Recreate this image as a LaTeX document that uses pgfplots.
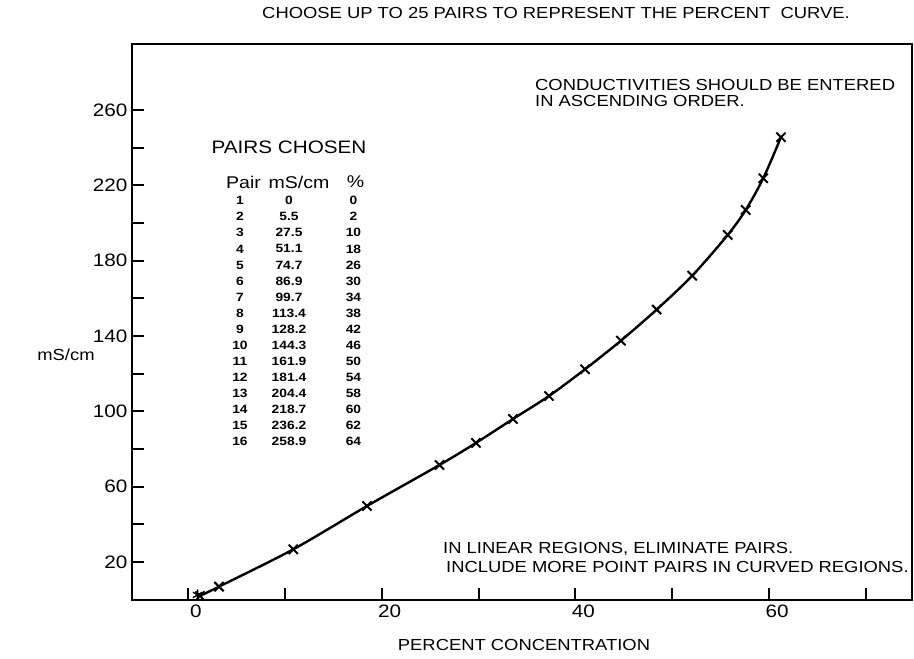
\documentclass[border=0pt]{standalone}
\usepackage{pgfplots}
\pgfplotsset{compat=1.18}
\usepackage{fontspec}
\setmainfont{Liberation Sans}
\usepackage{graphicx}
\newcommand{\hs}[1]{\scalebox{1.15}[1]{#1}}
\newcommand{\fs}[1]{\fontsize{#1}{#1}\selectfont}
\begin{document}
\begin{tikzpicture}[x=1pt,y=1pt]
\useasboundingbox (-132,-59) rectangle (782,600);
\begin{axis}[
  at={(0,0)}, anchor=south west,
  scale only axis, width=780pt, height=556pt,
  xmin=-5.78, xmax=74.75, ymin=-0.2, ymax=295,
  axis line style={line width=2.6pt},
  tick align=inside, major tick length=12pt,
  tick style={line width=2pt, black},
  xtick pos=bottom, ytick pos=left,
  xtick={0,10,...,70},
  xticklabels={\hs{0},,\hs{20},,\hs{40},,\hs{60},},
  ytick={20,40,...,260},
  yticklabels={\hs{20},,\hs{60},,\hs{100},,\hs{140},,\hs{180},,\hs{220},,\hs{260}},
  xticklabel style={font=\fs{18}, xshift=8pt, yshift=-1pt},
  yticklabel style={font=\fs{18}, xshift=-1pt},
  clip=false,
]
\addplot[black, line width=2.4pt, smooth, mark=x, mark size=6.5pt,
  mark options={line width=2pt, solid}] coordinates {
(1.24,1.95) (3.20,6.9) (10.87,26.7) (18.48,49.7) (25.97,71.5) (29.73,83.2)
(33.55,95.9) (37.27,108.1) (40.99,122.3) (44.70,137.5) (48.39,154.0)
(52.06,172.0) (55.72,193.6) (57.58,206.9) (59.39,223.7) (61.22,245.5)
};
\addplot[only marks, mark=asterisk, mark size=5.5pt, mark options={line width=1.4pt, black}]
  coordinates {(1.0,2.5)};
\end{axis}
% texts
\node[font=\fs{16}] at (424,587) {\hs{CHOOSE UP TO 25 PAIRS TO REPRESENT THE PERCENT\ \ CURVE.}};
\node[font=\fs{16}, anchor=west, inner sep=0pt] at (403,515) {\hs{CONDUCTIVITIES SHOULD BE ENTERED}};
\node[font=\fs{16}, anchor=west, inner sep=0pt] at (403,499.5) {\hs{IN ASCENDING ORDER.}};
\node[font=\fs{16}, anchor=west, inner sep=0pt] at (311,51) {\hs{IN LINEAR REGIONS, ELIMINATE PAIRS.}};
\node[font=\fs{16}, anchor=west, inner sep=0pt] at (314,33) {\hs{INCLUDE MORE POINT PAIRS IN CURVED REGIONS.}};
\node[font=\fs{16}] at (-66,245) {\hs{mS/cm}};
\node[font=\fs{16}] at (392,-45) {\hs{PERCENT CONCENTRATION}};
\node[font=\fs{18}] at (157,453) {\hs{PAIRS CHOSEN}};
\node[font=\fs{17}] at (111.5,418) {\hs{Pair}};
\node[font=\fs{17}] at (167,418) {\hs{mS/cm}};
\node[font=\fs{17}] at (223.5,418) {\hs{\%}};
\foreach \p/\m/\c [count=\i] in {1/0/0, 2/5.5/2, 3/27.5/10, 4/51.1/18, 5/74.7/26,
  6/86.9/30, 7/99.7/34, 8/113.4/38, 9/128.2/42, 10/144.3/46, 11/161.9/50,
  12/181.4/54, 13/204.4/58, 14/218.7/60, 15/236.2/62, 16/258.9/64} {
  \pgfmathsetmacro{\yy}{399.3-(\i-1)*16.07}
  \node[font=\fs{12}\bfseries, inner sep=0pt] at (108,\yy) {\hs{\p}};
  \node[font=\fs{12}\bfseries, inner sep=0pt] at (157,\yy) {\hs{\m}};
  \node[font=\fs{12}\bfseries, inner sep=0pt] at (221.5,\yy) {\hs{\c}};
}
\end{tikzpicture}
\end{document}
